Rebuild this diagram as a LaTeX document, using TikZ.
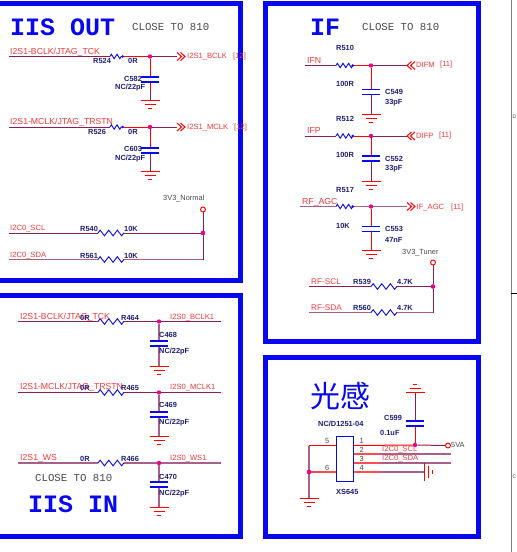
\documentclass[tikz,border=0pt]{standalone}
\usepackage{fontspec}
\setmainfont{Liberation Sans}
\newfontfamily\titlefam{Liberation Mono}
\newfontfamily\cjkfam{Noto Sans CJK SC}
\usepackage{xcolor}
\usetikzlibrary{arrows.meta,decorations.pathmorphing}
\definecolor{framecol}{HTML}{0808F0}
\definecolor{netcol}{HTML}{8A1F55}
\definecolor{palenet}{HTML}{A8608A}
\definecolor{partcol}{HTML}{1E1E78}
\definecolor{labelcol}{HTML}{F23A3A}
\definecolor{notecol}{HTML}{4A4A4A}
\tikzset{
	frame/.style={draw=framecol,line width=5pt,line join=miter},
	netwire/.style={draw=netcol,line width=1pt},
	palewire/.style={draw=palenet,line width=1.1pt},
	stubwire/.style={draw=red,line width=1pt},
	pinwire/.style={draw=red!70!white,line width=1.1pt},
	plate/.style={draw=framecol,line width=1.2pt},
	resistor/.style={draw=framecol,line width=.9pt,decorate,decoration={zigzag,segment length=8.6pt,amplitude=2.8pt}},
	smallres/.style={draw=framecol,line width=.9pt,decorate,decoration={zigzag,segment length=5.6pt,amplitude=2.2pt}},
	junction/.style={circle,fill=magenta,inner sep=0pt,minimum size=4.4pt},
	power/.style={circle,draw=red,fill=white,line width=.9pt,inner sep=0pt,minimum size=5pt},
	netlabel/.style={anchor=west,inner sep=0pt,text=labelcol,font=\fontsize{7.6}{8}\selectfont},
	biglabel/.style={anchor=west,inner sep=0pt,text=labelcol,font=\fontsize{8.7}{9}\selectfont},
	part/.style={anchor=west,inner sep=0pt,text=partcol,font=\fontsize{7.4}{8}\selectfont\bfseries},
	note/.style={anchor=west,inner sep=0pt,text=notecol,font=\titlefam\fontsize{10.7}{11}\selectfont},
	supply/.style={anchor=west,inner sep=0pt,text=notecol,font=\fontsize{7.4}{8}\selectfont},
	title/.style={anchor=west,inner sep=0pt,text=framecol,font=\titlefam\fontsize{25}{26}\selectfont\bfseries},
	gnd/.pic={
		\draw[stubwire] (-9.5,0) -- (9.5,0);
		\draw[stubwire] (-5.5,4) -- (5.5,4);
		\draw[stubwire] (-2,8) -- (2,8);
	},
	gndup/.pic={
		\draw[stubwire] (-9.5,0) -- (9.5,0);
		\draw[stubwire] (-5.5,-4) -- (5.5,-4);
		\draw[stubwire] (-2,-8) -- (2,-8);
	},
	gndright/.pic={
		\draw[stubwire] (0,-9) -- (0,9);
		\draw[stubwire] (4,-6) -- (4,6);
		\draw[stubwire] (8,-2) -- (8,2);
	},
	capplates/.pic={
		\draw[plate] (-9,-2.5) -- (9,-2.5);
		\draw[plate] (-9,2.5) -- (9,2.5);
	},
	chevron/.pic={
		\draw[stubwire] (0,-4) -- (4.5,0) -- (0,4);
		\draw[stubwire] (3.5,-4) -- (8,0) -- (3.5,4);
	},
	chevronleft/.pic={
		\draw[stubwire] (4.5,-4) -- (0,0) -- (4.5,4);
		\draw[stubwire] (8,-4) -- (3.5,0) -- (8,4);
	}
}
\begin{document}
\begin{tikzpicture}[x=1pt,y=-1pt]
	\useasboundingbox[fill=white] (0,0) rectangle (517,552);

	% Frames
	\draw[frame] (-5,3.5) -- (240.5,3.5) -- (240.5,280) -- (-5,280);
	\draw[frame] (-5,295.5) -- (240.5,295.5) -- (240.5,536) -- (-5,536);
	\draw[frame] (265,3.5) rectangle (478.5,341);
	\draw[frame] (265,357.5) rectangle (478.5,536.5);

	% Sheet border
	\coordinate (bordertop) at (511,0);
	\coordinate (borderbot) at (511,552);
	\coordinate (tickend) at (517,293.5);
	\coordinate (tickstart) at (511,293.5);
	\draw[gray,line width=.7pt] (bordertop) -- (borderbot);
	\draw[black,line width=.7pt] (tickstart) -- (tickend);
	\node[anchor=center,inner sep=0pt,text=notecol,font=\fontsize{5}{6}\selectfont] (zoneD) at (514.5,116.5) {D};
	\node[anchor=center,inner sep=0pt,text=notecol,font=\fontsize{5}{6}\selectfont] (zoneC) at (514.5,476.5) {C};

	% IIS OUT
	\node[title] (iisout) at (10,27) {IIS OUT};
	\node[note] (closeout) at (132,27) {CLOSE TO 810};

	\coordinate (a1) at (9,56.5);
	\coordinate (r524a) at (110,56.5);
	\coordinate (r524b) at (124,56.5);
	\node[junction] (j1) at (150,56.5) {};
	\coordinate (h1) at (177,56.5);
	\coordinate (c582a) at (150,77);
	\coordinate (c582b) at (150,82);
	\coordinate (c582m) at (150,79.5);
	\coordinate (c582d) at (150,90);
	\coordinate (g1) at (150,100);
	\draw[netwire] (a1) -- (r524a);
	\draw[smallres,-{Circle[length=2.5pt]}] (r524a) -- (r524b);
	\draw[stubwire] (r524b) -- (j1);
	\draw[netwire] (j1) -- (h1);
	\draw[stubwire] (j1) -- (c582a);
	\draw[stubwire] (c582b) -- (c582d);
	\draw[netwire] (c582d) -- (g1);
	\pic at (c582m) {capplates};
	\pic at (g1) {gnd};
	\pic at (h1) {chevron};
	\node[biglabel] (n1) at (10,52) {I2S1-BCLK/JTAG\_TCK};
	\node[part] (r524) at (93,60.5) {R524};
	\node[part] (v524) at (128,60.5) {0R};
	\node[part] (c582) at (124,78.5) {C582};
	\node[part] (v582) at (115,87.5) {NC/22pF};
	\node[netlabel] (n2) at (187,57) {I2S1\_BCLK};
	\node[netlabel] (n3) at (233,57) {[12]};

	\coordinate (a2) at (9,127);
	\coordinate (r526a) at (110,127);
	\coordinate (r526b) at (124,127);
	\node[junction] (j2) at (150,127) {};
	\coordinate (h2) at (177,127);
	\coordinate (c603a) at (150,148);
	\coordinate (c603b) at (150,153);
	\coordinate (c603m) at (150,150.5);
	\coordinate (c603d) at (150,160);
	\coordinate (g2) at (150,171);
	\draw[netwire] (a2) -- (r526a);
	\draw[smallres,-{Circle[length=2.5pt]}] (r526a) -- (r526b);
	\draw[stubwire] (r526b) -- (j2);
	\draw[netwire] (j2) -- (h2);
	\draw[stubwire] (j2) -- (c603a);
	\draw[netwire] (c603b) -- (g2);
	\pic at (c603m) {capplates};
	\pic at (g2) {gnd};
	\pic at (h2) {chevron};
	\node[biglabel] (n4) at (10,122) {I2S1-MCLK/JTAG\_TRSTN};
	\node[part] (r526) at (88,131.5) {R526};
	\node[part] (v526) at (128,131.5) {0R};
	\node[part] (c603) at (124,148.5) {C603};
	\node[part] (v603) at (115,158.5) {NC/22pF};
	\node[netlabel] (n5) at (187,128) {I2S1\_MCLK};
	\node[netlabel] (n6) at (234,128) {[12]};

	\node[supply] (v3n) at (163,199) {3V3\_Normal};
	\node[power] (p1) at (203,209.5) {};
	\coordinate (a3) at (9,233);
	\coordinate (r540a) at (98,233);
	\coordinate (r540b) at (124,233);
	\node[junction] (j3) at (203,233) {};
	\coordinate (a4) at (9,259.5);
	\coordinate (r561a) at (98,259.5);
	\coordinate (r561b) at (124,259.5);
	\coordinate (k1) at (203,259.5);
	\draw[netwire] (a3) -- (r540a);
	\draw[resistor] (r540a) -- (r540b);
	\draw[netwire] (r540b) -- (j3);
	\draw[palewire] (a4) -- (r561a);
	\draw[resistor] (r561a) -- (r561b);
	\draw[palewire] (r561b) -- (k1);
	\draw[netwire] (p1) -- (j3) -- (k1);
	\node[junction] (j3top) at (j3) {};
	\node[netlabel] (n7) at (10,228.5) {I2C0\_SCL};
	\node[part] (r540) at (80,228.5) {R540};
	\node[part] (v540) at (124,228.5) {10K};
	\node[netlabel] (n8) at (10,255.5) {I2C0\_SDA};
	\node[part] (r561) at (80,255.5) {R561};
	\node[part] (v561) at (124,255.5) {10K};

	% IIS IN
	\coordinate (a5) at (18,321.5);
	\coordinate (r464a) at (98,321.5);
	\coordinate (r464b) at (124,321.5);
	\node[junction] (j4) at (159,321.5) {};
	\coordinate (e5) at (221,321.5);
	\coordinate (c468a) at (159,341);
	\coordinate (c468b) at (159,346);
	\coordinate (c468m) at (159,343.5);
	\coordinate (g3) at (159,366);
	\draw[netwire] (a5) -- (r464a);
	\draw[resistor] (r464a) -- (r464b);
	\draw[netwire] (r464b) -- (j4) -- (e5);
	\draw[palewire] (j4) -- (c468a);
	\draw[palewire] (c468b) -- (g3);
	\pic at (c468m) {capplates};
	\pic at (g3) {gnd};
	\node[biglabel] (n9) at (20,317) {I2S1-BCLK/JTAG\_TCK};
	\node[part] (v464) at (80,317.5) {0R};
	\node[part] (r464) at (121,317.5) {R464};
	\node[netlabel] (n10) at (170,317.5) {I2S0\_BCLK1};
	\node[part] (c468) at (159,334.5) {C468};
	\node[part] (v468) at (159,352) {NC/22pF};

	\coordinate (a6) at (18,392.5);
	\coordinate (r465a) at (98,392.5);
	\coordinate (r465b) at (124,392.5);
	\node[junction] (j5) at (159,392.5) {};
	\coordinate (e6) at (221,392.5);
	\coordinate (c469a) at (159,412);
	\coordinate (c469b) at (159,417);
	\coordinate (c469m) at (159,414.5);
	\coordinate (g4) at (159,436);
	\draw[netwire] (a6) -- (r465a);
	\draw[resistor] (r465a) -- (r465b);
	\draw[netwire] (r465b) -- (j5) -- (e6);
	\draw[palewire] (j5) -- (c469a);
	\draw[palewire] (c469b) -- (g4);
	\pic at (c469m) {capplates};
	\pic at (g4) {gnd};
	\node[biglabel] (n11) at (20,387) {I2S1-MCLK/JTAG\_TRSTN};
	\node[part] (v465) at (80,387.5) {0R};
	\node[part] (r465) at (121,387.5) {R465};
	\node[netlabel] (n12) at (170,387.5) {I2S0\_MCLK1};
	\node[part] (c469) at (159,405) {C469};
	\node[part] (v469) at (159,423) {NC/22pF};

	\coordinate (a7) at (18,463);
	\coordinate (r466a) at (98,463);
	\coordinate (r466b) at (124,463);
	\node[junction] (j6) at (159,463) {};
	\coordinate (e7) at (221,463);
	\coordinate (c470a) at (159,482);
	\coordinate (c470b) at (159,487);
	\coordinate (c470m) at (159,484.5);
	\coordinate (g5) at (159,507);
	\draw[palewire] (a7) -- (r466a);
	\draw[resistor] (r466a) -- (r466b);
	\draw[palewire] (r466b) -- (j6) -- (e7);
	\draw[palewire] (j6) -- (c470a);
	\draw[palewire] (c470b) -- (g5);
	\pic at (c470m) {capplates};
	\pic at (g5) {gnd};
	\node[biglabel] (n13) at (20,458) {I2S1\_WS};
	\node[part] (v466) at (80,458.5) {0R};
	\node[part] (r466) at (121,458.5) {R466};
	\node[netlabel] (n14) at (170,458.5) {I2S0\_WS1};
	\node[part] (c470) at (159,476.5) {C470};
	\node[part] (v470) at (159,493.5) {NC/22pF};
	\node[note] (closein) at (35,478) {CLOSE TO 810};
	\node[title] (iisin) at (28,504) {IIS IN};

	% IF
	\node[title] (iftitle) at (310,27) {IF};
	\node[note] (closeif) at (362,27) {CLOSE TO 810};

	\coordinate (a8) at (305,65.5);
	\coordinate (r510a) at (336,65.5);
	\coordinate (r510b) at (354,65.5);
	\node[junction] (j7) at (371,65.5) {};
	\coordinate (h3) at (407,65.5);
	\coordinate (c549a) at (371,89.5);
	\coordinate (c549b) at (371,94.5);
	\coordinate (c549m) at (371,92);
	\coordinate (g6) at (371,114);
	\draw[netwire] (a8) -- (r510a);
	\draw[smallres,-{Circle[length=2.5pt]}] (r510a) -- (r510b);
	\draw[stubwire] (r510b) -- (j7);
	\draw[netwire] (j7) -- (h3);
	\draw[stubwire] (j7) -- (c549a);
	\draw[netwire] (c549b) -- (g6);
	\pic at (c549m) {capplates};
	\pic at (g6) {gnd};
	\pic at (h3) {chevronleft};
	\node[biglabel] (n15) at (307,61) {IFN};
	\node[part] (r510) at (336,47.5) {R510};
	\node[part] (v510) at (336,83.5) {100R};
	\node[part] (c549) at (385,91.5) {C549};
	\node[part] (v549) at (385,102.5) {33pF};
	\node[netlabel] (n16) at (416,64.5) {DIFM};
	\node[netlabel] (n17) at (440,64.5) {[11]};

	\coordinate (a9) at (305,136);
	\coordinate (r512a) at (336,136);
	\coordinate (r512b) at (354,136);
	\node[junction] (j8) at (371,136) {};
	\coordinate (h4) at (407,136);
	\coordinate (c552a) at (371,156);
	\coordinate (c552b) at (371,161);
	\coordinate (c552m) at (371,158.5);
	\coordinate (g7) at (371,181);
	\draw[netwire] (a9) -- (r512a);
	\draw[smallres,-{Circle[length=2.5pt]}] (r512a) -- (r512b);
	\draw[stubwire] (r512b) -- (j8);
	\draw[netwire] (j8) -- (h4);
	\draw[stubwire] (j8) -- (c552a);
	\draw[netwire] (c552b) -- (g7);
	\pic at (c552m) {capplates};
	\pic at (g7) {gnd};
	\pic at (h4) {chevronleft};
	\node[biglabel] (n18) at (307,131) {IFP};
	\node[part] (r512) at (336,118.5) {R512};
	\node[part] (v512) at (336,154.5) {100R};
	\node[part] (c552) at (385,158.5) {C552};
	\node[part] (v552) at (385,168.5) {33pF};
	\node[netlabel] (n19) at (416,135.5) {DIFP};
	\node[netlabel] (n20) at (439,135.5) {[11]};

	\coordinate (a10) at (300,206.5);
	\coordinate (r517a) at (336,206.5);
	\coordinate (r517b) at (354,206.5);
	\node[junction] (j9) at (371,206.5) {};
	\coordinate (h5) at (407,206.5);
	\coordinate (c553a) at (371,226.5);
	\coordinate (c553b) at (371,231.5);
	\coordinate (c553m) at (371,229);
	\coordinate (g8) at (371,250.5);
	\draw[palewire] (a10) -- (r517a);
	\draw[smallres,-{Circle[length=2.5pt]}] (r517a) -- (r517b);
	\draw[palewire] (r517b) -- (j9) -- (h5);
	\draw[stubwire] (j9) -- (c553a);
	\draw[stubwire] (c553b) -- (g8);
	\pic at (c553m) {capplates};
	\pic at (g8) {gnd};
	\pic at (h5) {chevron};
	\node[biglabel] (n21) at (302,202) {RF\_AGC};
	\node[part] (r517) at (336,189.5) {R517};
	\node[part] (v517) at (336,225.5) {10K};
	\node[part] (c553) at (385,228.5) {C553};
	\node[part] (v553) at (385,239.5) {47nF};
	\node[netlabel] (n22) at (416.5,207.5) {IF\_AGC};
	\node[netlabel] (n23) at (451,207.5) {[11]};

	\node[supply] (v3t) at (402,252.5) {3V3\_Tuner};
	\node[power] (p2) at (433,262.5) {};
	\coordinate (a11) at (309,286.5);
	\coordinate (r539a) at (371,286.5);
	\coordinate (r539b) at (397,286.5);
	\node[junction] (j10) at (433,286.5) {};
	\coordinate (a12) at (309,312.5);
	\coordinate (r560a) at (371,312.5);
	\coordinate (r560b) at (397,312.5);
	\coordinate (k2) at (433,312.5);
	\draw[netwire] (a11) -- (r539a);
	\draw[resistor] (r539a) -- (r539b);
	\draw[netwire] (r539b) -- (j10);
	\draw[palewire] (a12) -- (r560a);
	\draw[resistor] (r560a) -- (r560b);
	\draw[palewire] (r560b) -- (k2);
	\draw[netwire] (p2) -- (j10) -- (k2);
	\node[junction] (j10top) at (j10) {};
	\node[netlabel,font=\fontsize{8.2}{9}\selectfont] (n24) at (311,282) {RF-SCL};
	\node[part] (r539) at (353,281.5) {R539};
	\node[part] (v539) at (397,281.5) {4.7K};
	\node[netlabel,font=\fontsize{8.2}{9}\selectfont] (n25) at (311,308) {RF-SDA};
	\node[part] (r560) at (353,308) {R560};
	\node[part] (v560) at (397,308) {4.7K};

	% Light sensor
	\node[anchor=center,inner sep=0pt,text=framecol,font=\cjkfam\fontsize{30}{31}\selectfont] (lightsense) at (340,396) {光感};
	\node[part] (xsval) at (318,423.5) {NC/D1251-04};
	\node[draw=framecol,line width=.9pt,inner sep=0pt,minimum width=17.5pt,minimum height=45pt] (xs645) at (344.75,458.5) {};
	\node[part] (xsname) at (336,492) {XS645};

	\coordinate (pin1) at (353.5,445.5);
	\node[junction] (j11) at (415,445) {};
	\node[power] (p3) at (448,445.5) {};
	\coordinate (pin2) at (353.5,454);
	\coordinate (e2) at (451,454);
	\coordinate (pin3) at (353.5,463);
	\coordinate (e3) at (451,463);
	\coordinate (pin4) at (353.5,472);
	\coordinate (m4) at (380,472);
	\coordinate (g9) at (424,472);
	\coordinate (pin5) at (336,445.5);
	\coordinate (k3) at (309,445.5);
	\coordinate (pin6) at (336,472);
	\node[junction] (j12) at (309,472) {};
	\coordinate (g10) at (309,498);
	\coordinate (c599a) at (415,426);
	\coordinate (c599b) at (415,421);
	\coordinate (c599m) at (415,423.5);
	\coordinate (g11) at (415,392);
	\draw[stubwire] (pin1) -- (j11);
	\draw[netwire] (j11) -- (p3);
	\draw[pinwire] (pin2) -- (m4 |- pin2);
	\draw[palewire] (m4 |- pin2) -- (e2);
	\draw[pinwire] (pin3) -- (m4 |- pin3);
	\draw[palewire] (m4 |- pin3) -- (e3);
	\draw[pinwire] (pin4) -- (m4);
	\draw[palewire] (m4) -- (g9);
	\draw[stubwire] (pin5) -- (k3);
	\draw[pinwire] (pin6) -- (j12);
	\draw[palewire] (k3) -- (j12) -- (g10);
	\node[junction] (j12top) at (j12) {};
	\draw[stubwire] (j11) -- (c599a);
	\draw[netwire] (c599b) -- (g11);
	\pic at (c599m) {capplates};
	\pic at (g11) {gndup};
	\pic at (g10) {gnd};
	\pic at (g9) {gndright};
	\node[part] (c599) at (384,418) {C599};
	\node[part] (v599) at (380,432.5) {0.1uF};
	\node[netlabel] (n26) at (382,449.5) {I2C0\_SCL};
	\node[netlabel] (n27) at (382,458.5) {I2C0\_SDA};
	\node[supply] (v5a) at (451,444.5) {5VA};
	\node[supply] (pn1) at (359.5,440.5) {1};
	\node[supply] (pn2) at (359.5,449.5) {2};
	\node[supply] (pn3) at (359.5,458.5) {3};
	\node[supply] (pn4) at (359.5,467.5) {4};
	\node[supply] (pn5) at (325,440.5) {5};
	\node[supply] (pn6) at (325,467.5) {6};
\end{tikzpicture}
\end{document}
